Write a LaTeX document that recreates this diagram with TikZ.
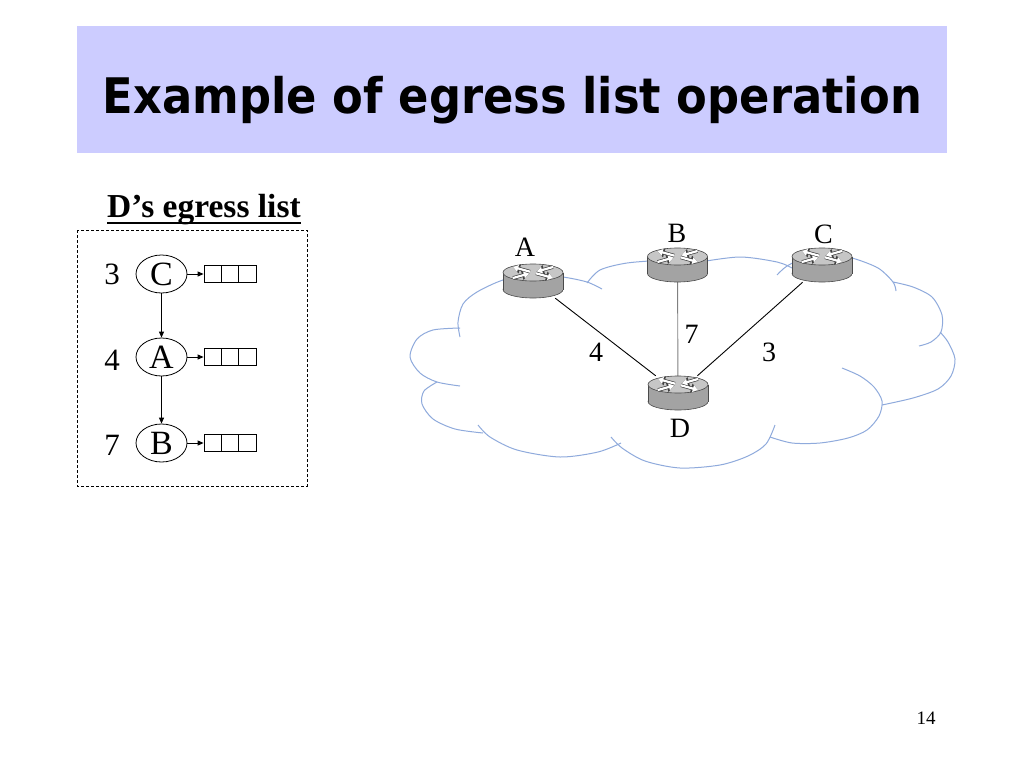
\documentclass[tikz,border=0pt]{standalone}
\usepackage{fontspec}
\setmainfont{Liberation Serif}
\newfontfamily\titlefont{DejaVu Sans}
\usetikzlibrary{shapes.geometric,arrows.meta}
\definecolor{titlebg}{HTML}{CCCCFF}
\definecolor{cloudc}{HTML}{8FAADC}
\definecolor{rside}{HTML}{A3A3A3}
\definecolor{rtop}{HTML}{C6C6C6}
\definecolor{redge}{HTML}{4A4A4A}
\newcommand{\rarr}[2]{%
  \draw[line width=3.6pt, black!75, -{Triangle[length=7pt,width=9pt]}] #1 -- #2;
  \draw[line width=2.2pt, white, -{Triangle[length=5.2pt,width=6.6pt]}] #1 -- #2;}
\newcommand{\routerpic}[3]{%
  \filldraw[fill=rside, draw=redge, line width=0.6pt] (#1,#3) ellipse[x radius=30pt, y radius=8.5pt];
  \fill[rside] (#1-30,#2) rectangle (#1+30,#3);
  \draw[redge, line width=0.6pt] (#1-30,#2) -- (#1-30,#3) (#1+30,#2) -- (#1+30,#3);
  \filldraw[fill=rtop, draw=redge, line width=0.6pt] (#1,#2) ellipse[x radius=30pt, y radius=8.5pt];
  \rarr{(#1-3,#2-0.8)}{(#1-20,#2-5.5)}
  \rarr{(#1+3,#2+0.8)}{(#1+20,#2+5.5)}
  \rarr{(#1+20,#2-5.5)}{(#1+4,#2-1)}
  \rarr{(#1-20,#2+5.5)}{(#1-4,#2+1)}
}
\tikzset{
  lbl/.style={inner sep=0pt, font=\fontsize{28}{32}\selectfont},
  num/.style={inner sep=0pt, font=\fontsize{31}{36}\selectfont},
  elist/.style={ellipse, draw, line width=0.8pt, minimum width=51pt, minimum height=38pt, inner sep=0pt, font=\fontsize{34}{38}\selectfont},
  cell/.style={draw, line width=0.8pt, minimum width=17.33pt, minimum height=17pt, inner sep=0pt},
  larrow/.style={line width=1pt, -{Triangle[length=6pt,width=5pt]}},
  rnode/.style={minimum width=60pt, minimum height=34pt, inner sep=0pt},
  link/.style={line width=0.9pt},
}
\begin{document}
\begin{tikzpicture}[x=1pt,y=-1pt]
\useasboundingbox (0,0) rectangle (1024,768);
\fill[white] (0,0) rectangle (1024,768);
% title
\fill[titlebg] (77,26) rectangle (947,153);
\node[inner sep=0pt, anchor=base] (title) at (512.5,113)
  {\resizebox{819pt}{\height}{\titlefont\bfseries\fontsize{49}{56}\selectfont Example of egress list operation}};
% left panel
\node[inner sep=0pt, anchor=base west, font=\bfseries\fontsize{33.5}{38}\selectfont] (hdr) at (107,217) {D’s egress list};
\draw[line width=2pt] ([yshift=-6pt]hdr.base west) -- ([yshift=-6pt]hdr.base east);
\draw[line width=0.8pt, dash pattern=on 3pt off 2pt] (77,230) rectangle (307,486);
\node[elist] (eC) at (161.5,274) {C};
\node[elist] (eA) at (161.5,357) {A};
\node[elist] (eB) at (161.5,443) {B};
\node[num] (nC) at (112,274.5) {3};
\node[num] (nA) at (112,360) {4};
\node[num] (nB) at (112,445.5) {7};
\foreach \r/\yy in {C/274, A/357, B/443} {
  \node[cell] (q\r1) at (212.67,\yy) {};
  \node[cell] (q\r2) at (230,\yy) {};
  \node[cell] (q\r3) at (247.33,\yy) {};
  \draw[larrow] (e\r.east) -- (q\r1.west);
}
\draw[larrow] (eC.south) -- (eA.north);
\draw[larrow] (eA.south) -- (eB.north);
% cloud
\begin{scope}[cloudc, line width=1pt]
\draw plot[smooth] coordinates {(460,328) (433,330) (417,339) (410,357) (420,373) (437,382) (460,386)};
\draw plot[smooth] coordinates {(437,382) (424,391) (422,404) (433,419) (455,429) (483,433)};
\draw plot[smooth] coordinates {(478,425) (490,437) (517,450) (560,457) (598,452) (621,443)};
\draw plot[smooth] coordinates {(611,437) (622,448) (645,461) (680,468) (720,465) (748,456) (766,444) (775,425)};
\draw plot[smooth] coordinates {(770,437) (792,443) (820,443) (848,438) (867,430) (879,416) (882,401) (874,387) (860,376) (842,368)};
\draw plot[smooth] coordinates {(882,405) (913,398) (938,389) (951,376) (955,359) (948,342) (940,332)};
\draw plot[smooth] coordinates {(893,282) (913,287) (932,297) (942,315) (941,332) (931,342) (919,346)};
\draw plot[smooth] coordinates {(777,275) (787,266) (805,258) (830,255) (852,258) (878,268) (893,282) (896,291)};
\draw plot[smooth] coordinates {(700,262) (740,257) (777,262) (792,268)};
\draw plot[smooth] coordinates {(587,283) (600,270) (627,263) (665,260)};
\draw plot[smooth] coordinates {(460,337) (458,322) (463,304) (477,292) (503,280) (533,274) (563,277) (587,282) (602,289)};
\end{scope}
% routers (placeholders for connectors)
\node[rnode] (rA) at (533,281) {};
\node[rnode] (rB) at (677.5,265) {};
\node[rnode] (rC) at (822,265) {};
\node[rnode] (rD) at (678,393) {};
\draw[link] (rA) -- (rD);
\draw[link, gray] (rB) -- (rD);
\draw[link] (rC) -- (rD);
\routerpic{533}{272.5}{289.5}
\routerpic{677.5}{256.5}{273.5}
\routerpic{822}{256.5}{273.5}
\routerpic{678}{384.5}{401.5}
% labels
\node[lbl] (tA) at (525,247) {A};
\node[lbl] (tB) at (677,233.5) {B};
\node[lbl] (tC) at (823.5,234) {C};
\node[lbl] (tD) at (680,428) {D};
\node[lbl] (w4) at (596,352) {4};
\node[lbl] (w7) at (691.5,334) {7};
\node[lbl] (w3) at (769,352.5) {3};
% page number
\node[inner sep=0pt, font=\fontsize{19}{22}\selectfont] (pg) at (926,718) {14};
\end{tikzpicture}
\end{document}
